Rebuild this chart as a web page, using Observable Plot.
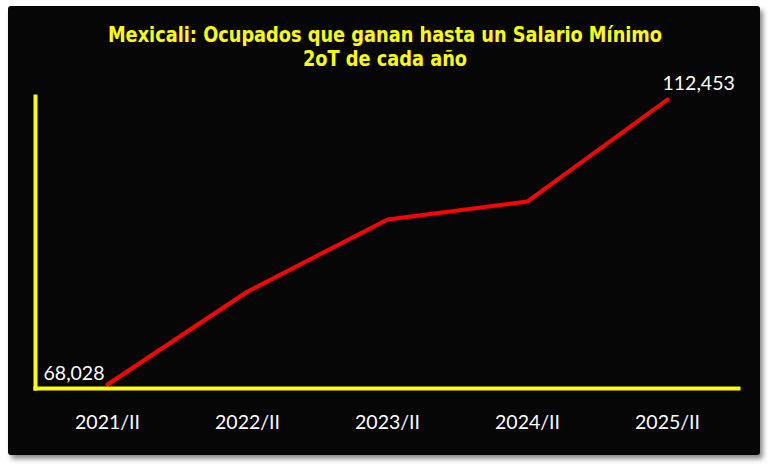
<!DOCTYPE html>
<html>
<head>
<meta charset="utf-8">
<script src="https://cdn.jsdelivr.net/npm/d3@7"></script>
<script src="https://cdn.jsdelivr.net/npm/@observablehq/plot@0.6"></script>
<style>
  html, body { margin: 0; padding: 0; background: #ffffff; width: 770px; height: 470px; overflow: hidden; }
  #box { position: absolute; left: 8px; top: 6px; width: 752px; height: 449px; background: #060606;
         border-radius: 3px; box-shadow: 3px 4px 5px rgba(0,0,0,0.45); }
  #title { position: absolute; left: 0; top: 23px; width: 770px; text-align: center; color: #ffff00;
           font-family: "Liberation Sans Narrow", "Arial Narrow", "DejaVu Sans Condensed", sans-serif;
           font-stretch: condensed; font-weight: bold; font-size: 21px; line-height: 24px;
           transform: scaleX(0.94); transform-origin: 385px 0; }
  #chart { position: absolute; left: 0; top: 0; }
</style>
</head>
<body>
<div id="box"></div>
<div id="title">Mexicali: Ocupados que ganan hasta un Salario Mínimo<br>2oT de cada año</div>
<div id="chart"></div>
<script>
const periods = ["2021/II", "2022/II", "2023/II", "2024/II", "2025/II"];
const values = [68028, 82525, 93749, 96555, 112453];

const data = periods.map((p, i) => ({period: p, value: values[i]}));
const yMin = 67404, yMax = 112921;
const fmt = d3.format(",");

const chart = Plot.plot({
  width: 770,
  height: 470,
  marginLeft: 35,
  marginRight: 32,
  marginTop: 96,
  marginBottom: 82,
  style: {background: "transparent", color: "#ffffff", fontFamily: "Lato, 'Open Sans', sans-serif"},
  x: {type: "point", domain: periods, padding: 0.5, axis: null, label: null},
  y: {domain: [yMin, yMax], axis: null},
  marks: [
    Plot.axisX({tickSize: 0, tickPadding: 27, fontSize: 19.5, fill: "#ffffff", stroke: null, label: null}),
    Plot.lineY(data, {x: "period", y: "value", stroke: "#ff0000", strokeWidth: 4}),
    Plot.text([data[0]], {x: "period", y: "value", text: d => fmt(d.value), textAnchor: "end", dx: -3, dy: -11, fill: "#ffffff", fontSize: 19.5}),
    Plot.text([data[4]], {x: "period", y: "value", text: d => fmt(d.value), textAnchor: "start", dx: -5, dy: -16, fill: "#ffffff", fontSize: 19.5}),
    Plot.frame({anchor: "left", stroke: "#ffff00", strokeWidth: 4}),
    Plot.frame({anchor: "bottom", stroke: "#ffff00", strokeWidth: 4})
  ]
});
document.getElementById("chart").appendChild(chart);
</script>
</body>
</html>
